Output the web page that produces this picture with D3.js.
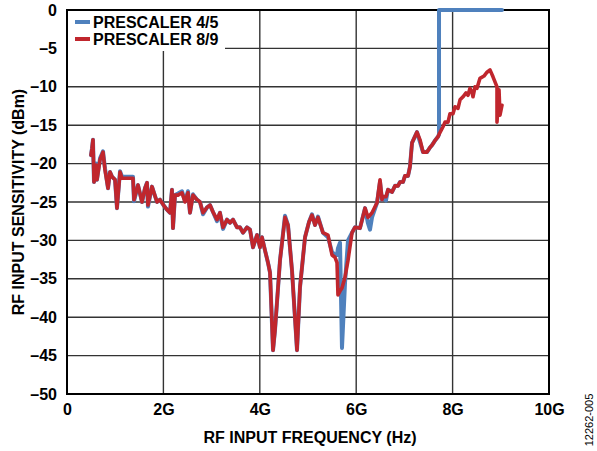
<!DOCTYPE html>
<html>
<head>
<meta charset="utf-8">
<script src="https://cdn.jsdelivr.net/npm/d3@7"></script>
<style>
  html, body { margin: 0; padding: 0; background: #fff; }
  svg { display: block; }
  text { font-family: "Liberation Sans", Arial, sans-serif; }
</style>
</head>
<body>
<svg id="chart" width="597" height="451"></svg>
<script>
// ---- data ----
const seriesNames = ["PRESCALER 4/5", "PRESCALER 8/9"];
const seriesColors = ["#4F81BD", "#C0262D"];
const xTickValues = [0, 2, 4, 6, 8, 10];
const xTickLabels = ["0", "2G", "4G", "6G", "8G", "10G"];
const yTickValues = [0, -5, -10, -15, -20, -25, -30, -35, -40, -45, -50];
const yTickLabels = ["0", "–5", "–10", "–15", "–20", "–25", "–30", "–35", "–40", "–45", "–50"];

// frequency in GHz
const freqGHz = [
  0.498, 0.519, 0.539, 0.560, 0.602, 0.622, 0.685, 0.747, 0.788, 0.851,
  0.892, 0.934, 0.996, 1.037, 1.100, 1.141, 1.369, 1.390, 1.473, 1.556,
  1.618, 1.660, 1.680, 1.763, 1.867, 1.929, 2.012, 2.075, 2.137, 2.178,
  2.199, 2.241, 2.303, 2.386, 2.448, 2.510, 2.552, 2.614, 2.697, 2.759,
  2.822, 2.905, 2.967, 3.029, 3.112, 3.174, 3.237, 3.320, 3.382, 3.444,
  3.527, 3.589, 3.651, 3.734, 3.797, 3.859, 3.942, 4.004, 4.046, 4.108,
  4.170, 4.212, 4.274, 4.315, 4.419, 4.523, 4.585, 4.668, 4.772, 4.834,
  4.938, 5.021, 5.083, 5.145, 5.207, 5.311, 5.415, 5.498, 5.560, 5.602,
  5.622, 5.664, 5.705, 5.768, 5.830, 5.913, 5.975, 6.079, 6.183, 6.245,
  6.286, 6.328, 6.432, 6.494,
  6.535, 6.556, 6.618, 6.660, 6.743, 6.805, 6.867, 6.909, 6.971, 7.012,
  7.075, 7.116, 7.158, 7.261, 7.324, 7.386, 7.469, 7.531, 7.573, 7.635,
  7.697, 7.718, 7.718, 7.801, 7.842, 7.905, 7.946, 8.008, 8.050, 8.112,
  8.154, 8.216, 8.278, 8.320, 8.361, 8.402, 8.423, 8.465, 8.506, 8.568,
  8.651, 8.714, 8.776, 8.838, 8.921, 8.921, 8.963, 8.983, 9.025
];

// sensitivity (dBm), prescaler 8/9
const sens89 = [
  -18.9, -18.0, -16.9, -22.4, -20.2, -22.1, -19.5, -18.5, -20.8, -23.2,
  -21.1, -21.7, -22.1, -25.8, -21.1, -21.9, -21.9, -24.7, -22.8, -25.0,
  -23.2, -22.5, -25.4, -23.0, -25.0, -24.7, -25.5, -26.0, -26.4, -23.4,
  -28.4, -24.1, -24.1, -23.8, -25.0, -23.8, -26.4, -24.1, -24.7, -25.0,
  -26.4, -25.7, -25.4, -26.3, -27.3, -26.4, -28.3, -27.3, -27.7, -27.3,
  -28.3, -28.3, -29.0, -28.3, -28.6, -30.9, -29.3, -30.9, -29.6, -31.3,
  -32.9, -34.2, -44.3, -41.7, -32.6, -27.0, -28.0, -33.9, -44.3, -36.1,
  -29.6, -27.6, -26.7, -28.0, -27.0, -29.0, -29.3, -31.9, -32.2, -32.9,
  -37.1, -36.6, -36.2, -34.8, -32.6, -29.0, -28.3, -28.4, -25.8, -27.0,
  -26.7, -26.4, -25.1, -22.1,
  -24.7, -24.3, -24.3, -23.4, -23.7, -22.9, -22.9, -22.4, -22.4, -21.6,
  -21.6, -20.4, -17.3, -15.9, -16.9, -18.5, -18.5, -17.9, -17.6, -17.0,
  -16.5, -16.2, -16.2, -15.2, -14.6, -14.6, -13.5, -13.5, -12.6, -12.8,
  -11.7, -11.3, -10.8, -11.1, -10.2, -10.7, -11.3, -10.0, -10.2, -8.9,
  -8.6, -8.1, -7.8, -8.7, -10.0, -14.6, -10.4, -13.7, -12.4
];

// sensitivity (dBm), prescaler 4/5
const sens45 = [
  -18.9, -18.0, -16.9, -22.4, -20.0, -22.1, -19.3, -18.4, -20.6, -23.2,
  -21.1, -21.7, -22.1, -25.8, -21.0, -21.7, -21.7, -24.9, -22.8, -25.0,
  -23.2, -22.5, -25.6, -23.0, -25.0, -24.7, -25.5, -26.0, -26.4, -23.4,
  -28.4, -24.1, -23.9, -23.6, -24.9, -23.6, -26.4, -24.0, -24.7, -25.0,
  -26.6, -25.7, -25.4, -26.3, -27.5, -26.4, -28.5, -27.3, -27.7, -27.3,
  -28.3, -28.3, -29.0, -28.3, -28.6, -30.9, -29.3, -30.9, -29.6, -31.3,
  -32.9, -34.2, -44.3, -41.7, -32.6, -26.8, -28.0, -33.9, -44.3, -36.1,
  -29.6, -27.6, -26.6, -28.0, -26.9, -29.0, -29.6, -31.5, -31.9, -31.9,
  -31.0, -30.3, -44.0, -35.5, -30.0, -29.0, -28.3, -28.4, -25.8, -27.8,
  -28.6, -27.0, -25.1, -22.4,
  -24.7, -24.3, -24.8, -23.4, -23.7, -22.9, -22.9, -22.4, -22.4, -21.6,
  -21.6, -20.4, -17.3, -15.9, -17.2, -18.5, -18.5, -17.9, -17.6, -17.0,
  -16.5, -16.2, 0, 0, 0, 0, 0, 0, 0, 0,
  0, 0, 0, 0, 0, 0, 0, 0, 0, 0,
  0, 0, 0, 0, 0, 0, 0, 0, 0
];

// ---- chart ----
const svg = d3.select("#chart");
const plot = { left: 67, right: 549, top: 10, bottom: 394 };

const x = d3.scaleLinear().domain([0, 10]).range([plot.left, plot.right]);
const y = d3.scaleLinear().domain([-50, 0]).range([plot.bottom, plot.top]);

// gridlines
const gridG = svg.append("g");
gridG.selectAll("line.h").data(yTickValues.filter(v => v !== 0 && v !== -50))
  .join("line")
  .attr("x1", plot.left).attr("x2", plot.right)
  .attr("y1", d => y(d)).attr("y2", d => y(d))
  .attr("stroke", "#333").attr("stroke-width", 1.4);
gridG.selectAll("line.v").data(xTickValues.filter(v => v !== 0 && v !== 10))
  .join("line")
  .attr("y1", plot.top).attr("y2", plot.bottom)
  .attr("x1", d => x(d)).attr("x2", d => x(d))
  .attr("stroke", "#333").attr("stroke-width", 1.4);

// legend background (covers gridlines)
svg.append("rect")
  .attr("x", plot.left).attr("y", plot.top)
  .attr("width", 158).attr("height", 41)
  .attr("fill", "#fff");

// plot border
svg.append("rect")
  .attr("x", plot.left).attr("y", plot.top)
  .attr("width", plot.right - plot.left).attr("height", plot.bottom - plot.top)
  .attr("fill", "none").attr("stroke", "#000").attr("stroke-width", 2);

// axes tick labels
const yAxis = d3.axisLeft(y).tickValues(yTickValues)
  .tickFormat((d, i) => yTickLabels[i]).tickSize(0).tickPadding(10);
const yg = svg.append("g").attr("transform", `translate(${plot.left},0)`).call(yAxis);
yg.select(".domain").remove();
yg.selectAll("text").attr("font-size", 16).attr("font-weight", "bold")
  .attr("fill", "#000").attr("font-family", "Liberation Sans, Arial, sans-serif");

const xAxis = d3.axisBottom(x).tickValues(xTickValues)
  .tickFormat((d, i) => xTickLabels[i]).tickSize(0).tickPadding(10);
const xg = svg.append("g").attr("transform", `translate(0,${plot.bottom})`).call(xAxis);
xg.select(".domain").remove();
xg.selectAll("text").attr("font-size", 16).attr("font-weight", "bold")
  .attr("fill", "#000").attr("font-family", "Liberation Sans, Arial, sans-serif");

// series
const line = d3.line()
  .x((d) => x(d[0])).y((d) => y(d[1]))
  .curve(d3.curveLinear);

const data45 = freqGHz.map((f, i) => [f, sens45[i]]);
const data89 = freqGHz.map((f, i) => [f, sens89[i]]);

svg.append("path").datum(data45)
  .attr("d", line).attr("fill", "none")
  .attr("stroke", seriesColors[0]).attr("stroke-width", 4)
  .attr("stroke-linejoin", "round").attr("stroke-linecap", "round");
svg.append("path").datum(data89)
  .attr("d", line).attr("fill", "none")
  .attr("stroke", seriesColors[1]).attr("stroke-width", 3.6)
  .attr("stroke-linejoin", "round").attr("stroke-linecap", "round");

// legend
const leg = svg.append("g");
seriesNames.forEach((name, i) => {
  const ly = 22 + i * 17;
  leg.append("line")
    .attr("x1", 75).attr("x2", 90).attr("y1", ly).attr("y2", ly)
    .attr("stroke", seriesColors[i]).attr("stroke-width", 4);
  leg.append("text")
    .attr("x", 93).attr("y", ly + 5.5)
    .attr("font-size", 16).attr("font-weight", "bold")
    .text(name);
});

// axis titles
svg.append("text")
  .attr("x", (plot.left + plot.right) / 2 + 2).attr("y", 443)
  .attr("text-anchor", "middle")
  .attr("font-size", 16).attr("font-weight", "bold")
  .text("RF INPUT FREQUENCY (Hz)");

svg.append("text")
  .attr("transform", `translate(24,${(plot.top + plot.bottom) / 2}) rotate(-90)`)
  .attr("text-anchor", "middle")
  .attr("font-size", 16).attr("font-weight", "bold")
  .text("RF INPUT SENSITIVITY (dBm)");

// figure code
svg.append("text")
  .attr("transform", "translate(593,420) rotate(-90)")
  .attr("text-anchor", "middle")
  .attr("font-size", 11)
  .text("12262-005");
</script>
</body>
</html>
